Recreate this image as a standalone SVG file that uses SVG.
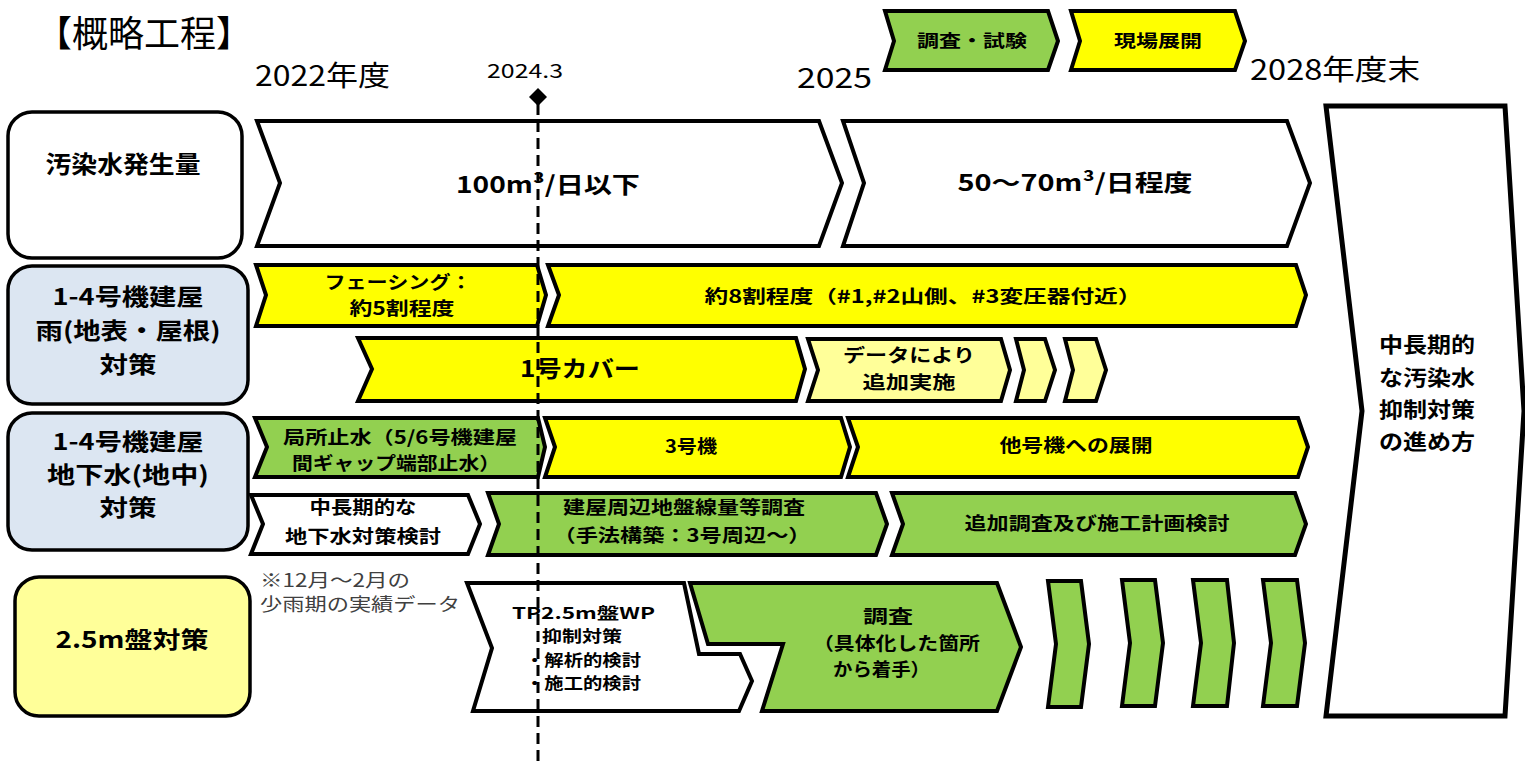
<svg xmlns="http://www.w3.org/2000/svg" width="1525" height="767" viewBox="0 0 1525 767">
<style>
text{font-family:'Noto Sans CJK JP','Noto Sans',sans-serif;fill:#000}
.b{font-weight:bold}
.c{text-anchor:middle}
.sh{stroke:#000;stroke-width:4;stroke-linejoin:miter}
.w{fill:#fff}
.y{fill:#ffff00}
.g{fill:#92d050}
.ly{fill:#ffff99}
.bl{fill:#dce6f2}
.lab{stroke:#000;stroke-width:3.5}
.yr{font-size:28px}
</style>
<rect width="1525" height="767" fill="#fff"/>

<g id="title"><text x="36" y="47" style="font-size:36px" textLength="216" lengthAdjust="spacingAndGlyphs">【概略工程】</text></g>
<g id="years">
<text x="255" y="86" class="yr" textLength="135" lengthAdjust="spacingAndGlyphs">2022年度</text>
<text x="525" y="78" class="c" style="font-size:19px" textLength="76" lengthAdjust="spacingAndGlyphs">2024.3</text>
<text x="797" y="88" class="yr" textLength="75" lengthAdjust="spacingAndGlyphs">2025</text>
<text x="1250" y="80" class="yr" textLength="170" lengthAdjust="spacingAndGlyphs">2028年度末</text>
</g>

<g id="legend-survey"><polygon class="sh g" points="885,11 1048,11 1058,41 1048,70 885,70 894,41"/><text x="972" y="47" class="b c" style="font-size:17px" textLength="110" lengthAdjust="spacingAndGlyphs">調査・試験</text></g>
<g id="legend-field"><polygon class="sh y" points="1071,11 1235,11 1245,41 1235,70 1071,70 1080,41"/><text x="1158" y="47" class="b c" style="font-size:17px" textLength="88" lengthAdjust="spacingAndGlyphs">現場展開</text></g>

<g id="label-water"><rect x="8" y="112" width="234" height="146" rx="24" class="lab w"/><text x="123" y="173" class="b c" style="font-size:24px" textLength="155" lengthAdjust="spacingAndGlyphs">汚染水発生量</text></g>
<g id="label-rain"><rect x="8" y="266" width="240" height="138" rx="24" class="lab bl"/>
<text x="128" y="305" class="b c" style="font-size:23px" textLength="151" lengthAdjust="spacingAndGlyphs">1-4号機建屋</text>
<text x="128" y="339" class="b c" style="font-size:23px" textLength="185" lengthAdjust="spacingAndGlyphs">雨(地表・屋根)</text>
<text x="128" y="373" class="b c" style="font-size:23px" textLength="57" lengthAdjust="spacingAndGlyphs">対策</text></g>
<g id="label-ground"><rect x="8" y="413" width="240" height="137" rx="24" class="lab bl"/>
<text x="128" y="450" class="b c" style="font-size:23px" textLength="151" lengthAdjust="spacingAndGlyphs">1-4号機建屋</text>
<text x="128" y="483" class="b c" style="font-size:23px" textLength="162" lengthAdjust="spacingAndGlyphs">地下水(地中)</text>
<text x="128" y="516" class="b c" style="font-size:23px" textLength="57" lengthAdjust="spacingAndGlyphs">対策</text></g>
<g id="label-25m"><rect x="15" y="577" width="235" height="139" rx="24" class="lab ly"/><text x="132" y="648" class="b c" style="font-size:23px" textLength="153" lengthAdjust="spacingAndGlyphs">2.5m盤対策</text></g>

<g id="water-100"><polygon class="sh w" points="257,121 819,121 842,183 819,246 257,246 280,183"/><text x="548" y="193" class="b c" style="font-size:23px" textLength="184" lengthAdjust="spacingAndGlyphs">100m³/日以下</text></g>
<g id="water-50"><polygon class="sh w" points="843,121 1287,121 1310,183 1287,246 843,246 864,183"/><text x="1075" y="191" class="b c" style="font-size:23px" textLength="235" lengthAdjust="spacingAndGlyphs">50～70m³/日程度</text></g>

<g id="facing"><polygon class="sh y" points="256,265 537,265 546,295 537,326 256,326 266,295"/><text x="398" y="289" class="b c" style="font-size:18px" textLength="147" lengthAdjust="spacingAndGlyphs">フェーシング：</text><text x="402" y="315" class="b c" style="font-size:18px" textLength="105" lengthAdjust="spacingAndGlyphs">約5割程度</text></g>
<g id="facing-80"><polygon class="sh y" points="548,265 1296,265 1306,295 1296,326 548,326 559,295"/><text x="923" y="303" class="b c" style="font-size:18px" textLength="437" lengthAdjust="spacingAndGlyphs">約8割程度（#1,#2山側、#3変圧器付近）</text></g>
<g id="cover1"><polygon class="sh y" points="358,338 796,338 805,369 796,401 358,401 372,369"/><text x="580" y="377" class="b c" style="font-size:23px" textLength="120" lengthAdjust="spacingAndGlyphs">1号カバー</text></g>
<g id="add-impl"><polygon class="sh ly" points="808,339 1001,339 1010,370 1001,401 808,401 818,370"/><text x="909" y="362" class="b c" style="font-size:18px" textLength="132" lengthAdjust="spacingAndGlyphs">データにより</text><text x="909" y="389" class="b c" style="font-size:18px" textLength="93" lengthAdjust="spacingAndGlyphs">追加実施</text></g>
<g id="add-impl-2"><polygon class="sh ly" points="1016,339 1045,339 1055,370 1045,401 1016,401 1024,370"/></g>
<g id="add-impl-3"><polygon class="sh ly" points="1065,339 1096,339 1106,370 1096,401 1065,401 1073,370"/></g>

<g id="local-stop"><polygon class="sh g" points="255,418 538,418 545,447 538,477 255,477 267,447"/><text x="400" y="444" class="b c" style="font-size:18px" textLength="234" lengthAdjust="spacingAndGlyphs">局所止水（5/6号機建屋</text><text x="396" y="470" class="b c" style="font-size:18px" textLength="208" lengthAdjust="spacingAndGlyphs">間ギャップ端部止水）</text></g>
<g id="unit3"><polygon class="sh y" points="545,418 841,418 850,447 841,477 545,477 555,447"/><text x="691" y="453" class="b c" style="font-size:18px" textLength="52" lengthAdjust="spacingAndGlyphs">3号機</text></g>
<g id="other-units"><polygon class="sh y" points="848,418 1298,418 1308,447 1298,477 848,477 858,447"/><text x="1076" y="452" class="b c" style="font-size:18px" textLength="153" lengthAdjust="spacingAndGlyphs">他号機への展開</text></g>

<g id="gw-study"><polygon class="sh w" points="251,495 468,495 480,524 468,554 251,554 263,524"/><text x="363" y="514" class="b c" style="font-size:18px" textLength="107" lengthAdjust="spacingAndGlyphs">中長期的な</text><text x="363" y="543" class="b c" style="font-size:18px" textLength="156" lengthAdjust="spacingAndGlyphs">地下水対策検討</text></g>
<g id="dose-survey"><polygon class="sh g" points="488,493 876,493 887,524 876,555 488,555 499,524"/><text x="684" y="514" class="b c" style="font-size:18px" textLength="242" lengthAdjust="spacingAndGlyphs">建屋周辺地盤線量等調査</text><text x="682" y="542" class="b c" style="font-size:18px" textLength="257" lengthAdjust="spacingAndGlyphs">（手法構築：3号周辺～）</text></g>
<g id="add-survey"><polygon class="sh g" points="892,493 1295,493 1306,524 1295,555 892,555 903,524"/><text x="1097" y="530" class="b c" style="font-size:18px" textLength="265" lengthAdjust="spacingAndGlyphs">追加調査及び施工計画検討</text></g>

<g id="note"><text x="260" y="587" style="font-size:18px;fill:#404040" textLength="150" lengthAdjust="spacingAndGlyphs">※12月～2月の</text><text x="260" y="611" style="font-size:18px;fill:#404040" textLength="200" lengthAdjust="spacingAndGlyphs">少雨期の実績データ</text></g>

<g id="tp-wp"><polygon class="sh w" points="467,583 684,583 699,654 740,654 752,681 739,711 473,711 492,648"/>
<text x="512" y="619" class="b" style="font-size:16px" textLength="143" lengthAdjust="spacingAndGlyphs">TP2.5m盤WP</text>
<text x="542" y="642" class="b" style="font-size:16px" textLength="80" lengthAdjust="spacingAndGlyphs">抑制対策</text>
<text x="525" y="666" class="b" style="font-size:16px" textLength="116" lengthAdjust="spacingAndGlyphs">・解析的検討</text>
<text x="525" y="689" class="b" style="font-size:16px" textLength="116" lengthAdjust="spacingAndGlyphs">・施工的検討</text></g>
<g id="survey-site"><polygon class="sh g" points="690,583 997,583 1021,647 997,711 762,711 783,644 708,644"/>
<text x="888" y="623" class="b c" style="font-size:18px" textLength="50" lengthAdjust="spacingAndGlyphs">調査</text>
<text x="813" y="650" class="b" style="font-size:18px" textLength="167" lengthAdjust="spacingAndGlyphs">（具体化した箇所</text>
<text x="833" y="676" class="b" style="font-size:18px" textLength="97" lengthAdjust="spacingAndGlyphs">から着手）</text></g>
<g id="step-1"><polygon class="sh g" points="1048,581 1081,581 1089,644 1081,707 1048,707 1056,644"/></g>
<g id="step-2"><polygon class="sh g" points="1122,580 1155,580 1163,643 1155,706 1122,706 1130,643"/></g>
<g id="step-3"><polygon class="sh g" points="1193,580 1227,580 1234,643 1227,706 1193,706 1201,643"/></g>
<g id="step-4"><polygon class="sh g" points="1263,580 1297,580 1305,643 1297,706 1263,706 1271,643"/></g>

<g id="long-term"><polygon points="1326,106 1505,106 1524,411 1505,716 1326,716 1362,411" fill="#fff" stroke="#000" stroke-width="5"/>
<text x="1379" y="352" class="b" style="font-size:21px" textLength="96" lengthAdjust="spacingAndGlyphs">中長期的</text>
<text x="1379" y="385" class="b" style="font-size:21px" textLength="96" lengthAdjust="spacingAndGlyphs">な汚染水</text>
<text x="1379" y="417" class="b" style="font-size:21px" textLength="96" lengthAdjust="spacingAndGlyphs">抑制対策</text>
<text x="1379" y="449" class="b" style="font-size:21px" textLength="96" lengthAdjust="spacingAndGlyphs">の進め方</text></g>

<g id="connectors">
<line x1="538" y1="104" x2="538" y2="767" stroke="#000" stroke-width="3" stroke-dasharray="11,6"/>
<polygon points="538,88 547,97 538,106 529,97" fill="#000"/>
</g>
</svg>
